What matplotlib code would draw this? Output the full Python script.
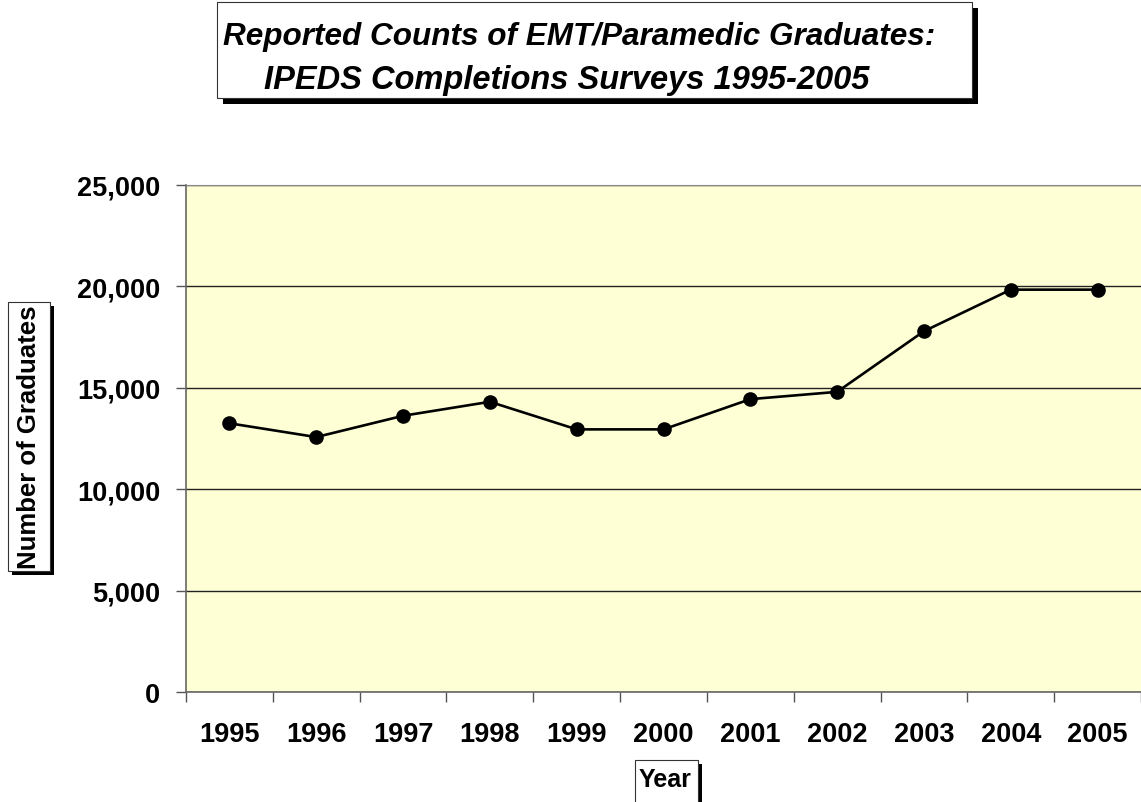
import numpy as np
import matplotlib
matplotlib.use("Agg")
import matplotlib.pyplot as plt
from matplotlib.patches import Rectangle
from matplotlib.ticker import FuncFormatter, MultipleLocator

years = ['1995', '1996', '1997', '1998', '1999', '2000',
         '2001', '2002', '2003', '2004', '2005']
graduates = [13250, 12570, 13620, 14310, 12950, 12950,
             14440, 14800, 17790, 19840, 19840]

plt.rcParams['font.family'] = ['Liberation Sans', 'DejaVu Sans']

W, H = 1141, 803
fig = plt.figure(figsize=(W / 100, H / 100), dpi=100)
ax = fig.add_axes([186 / W, 1 - 693 / H, (W - 186) / W, (693 - 186) / H])
ax.set_facecolor('#FFFFD5')

x = np.arange(len(years))
ax.plot(x, graduates, color='black', lw=1.9, marker='o', ms=9.5,
        mfc='black', mec='black', zorder=3)

ax.set_xlim(-0.5, len(years) - 0.5)
ax.set_ylim(0, 25000)
ax.yaxis.set_major_locator(MultipleLocator(5000))
ax.yaxis.set_major_formatter(FuncFormatter(lambda v, p: f'{int(v):,}'))
ax.grid(axis='y', color='#222222', lw=1.0, zorder=1)
ax.set_axisbelow(True)

# category ticks sit between the years
ax.set_xticks(np.arange(-0.5, len(years), 1.0))
ax.set_xticklabels([])
ax.set_xticks(x, minor=True)
ax.set_xticklabels(years, minor=True)
ax.tick_params(axis='x', which='major', direction='out', length=7.2,
               width=1, color='#555555')
ax.tick_params(axis='x', which='minor', length=0, pad=21, labelsize=19.5)
ax.tick_params(axis='y', direction='out', length=7.2, width=1,
               color='#555555', pad=11.5, labelsize=19.5)
for lab in ax.get_xticklabels(minor=True) + ax.get_yticklabels():
    lab.set_fontweight('bold')

ax.spines['right'].set_visible(False)
ax.spines['top'].set_color('#888888')
ax.spines['left'].set_color('#666666')
ax.spines['bottom'].set_color('#666666')
ax.spines['left'].set_linewidth(1.2)
ax.spines['bottom'].set_linewidth(1.2)


def shadow_box(x0, y0, x1, y1, off=4):
    # pixel coords, y measured from top
    fig.add_artist(Rectangle(((x0 + off) / W, 1 - (y1 + off) / H),
                             (x1 - x0) / W, (y1 - y0) / H,
                             transform=fig.transFigure, facecolor='black',
                             edgecolor='black', lw=0))
    fig.add_artist(Rectangle((x0 / W, 1 - y1 / H), (x1 - x0) / W,
                             (y1 - y0) / H, transform=fig.transFigure,
                             facecolor='white', edgecolor='#333333', lw=0.8))


# title
shadow_box(217, 3, 972, 99, off=6)
fig.text(579 / W, 1 - 33 / H, 'Reported Counts of EMT/Paramedic Graduates:',
         ha='center', va='center_baseline', fontsize=22.7, fontweight='bold',
         style='italic')
fig.text(567 / W, 1 - 77 / H, 'IPEDS Completions Surveys 1995-2005',
         ha='center', va='center_baseline', fontsize=23.5, fontweight='bold',
         style='italic')

# y label
shadow_box(8, 303, 50, 572, off=4)
fig.text(29 / W, 1 - 437 / H, 'Number of Graduates', rotation=90,
         ha='center', va='center', fontsize=18.5, fontweight='bold')

# x label
shadow_box(635, 761, 698, 810, off=4)
fig.text(665 / W, 1 - 780 / H, 'Year', ha='center', va='center',
         fontsize=18, fontweight='bold')

fig.savefig('out.png', dpi=100, facecolor='white')
